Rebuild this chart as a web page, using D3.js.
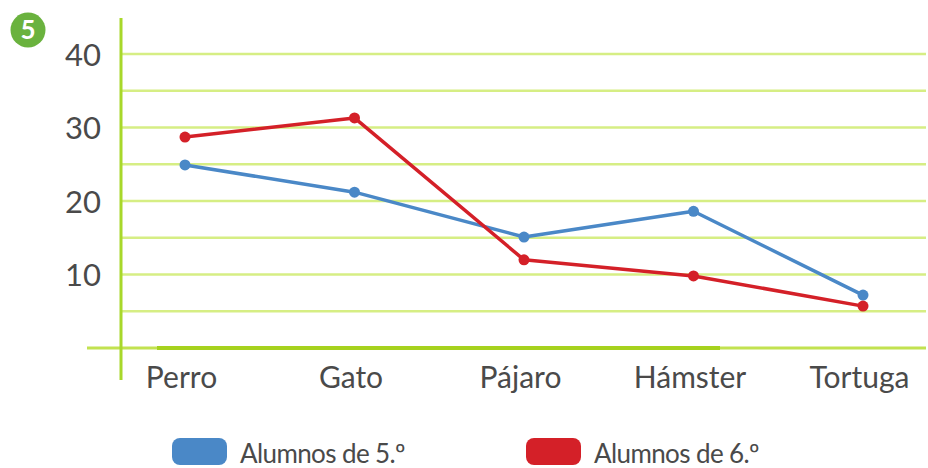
<!DOCTYPE html>
<html>
<head>
<meta charset="utf-8">
<script src="https://cdn.jsdelivr.net/npm/d3@7"></script>
<style>
  html, body { margin: 0; padding: 0; background: #fff; }
  svg { display: block; }
  text { font-family: Lato, "Open Sans", sans-serif; fill: #4a4a4a; }
</style>
</head>
<body>
<svg id="chart" width="928" height="468"></svg>
<script>
const categories = ["Perro", "Gato", "Pájaro", "Hámster", "Tortuga"];
const quinto = [24.9, 21.2, 15.1, 18.6, 7.2];
const sexto = [28.7, 31.3, 12.0, 9.8, 5.7];
const yTicks = [10, 20, 30, 40];
const gridValues = [5, 10, 15, 20, 25, 30, 35, 40];
const seriesNames = ["Alumnos de 5.º", "Alumnos de 6.º"];
const seriesColors = ["#4a88c7", "#d42028"];
const badgeLabel = "5";

const svg = d3.select("#chart");

const x = d3.scalePoint().domain(categories).range([185, 863]);
const y = d3.scaleLinear().domain([0, 40]).range([348, 54]);

// gridlines
svg.append("g").selectAll("line").data(gridValues).join("line")
  .attr("x1", 121).attr("x2", 926)
  .attr("y1", d => y(d)).attr("y2", d => y(d))
  .attr("stroke", "#d6ee84").attr("stroke-width", 2.5);

// x axis baseline
svg.append("line")
  .attr("x1", 87).attr("x2", 926).attr("y1", y(0)).attr("y2", y(0))
  .attr("stroke", "#c2e250").attr("stroke-width", 3);
svg.append("line")
  .attr("x1", 157).attr("x2", 720).attr("y1", y(0)).attr("y2", y(0))
  .attr("stroke", "#a6d21e").attr("stroke-width", 4);

// y axis line
svg.append("line")
  .attr("x1", 121).attr("x2", 121).attr("y1", 18).attr("y2", 380)
  .attr("stroke", "#a8d82a").attr("stroke-width", 3);

// y tick labels
const yAxis = d3.axisLeft(y).tickValues(yTicks).tickSize(0).tickPadding(0);
const gy = svg.append("g").attr("transform", "translate(101,0)").call(yAxis);
gy.select(".domain").remove();
gy.selectAll("text")
  .attr("font-family", "Lato, 'Open Sans', sans-serif")
  .attr("font-size", 31).attr("fill", "#4a4a4a")
  .attr("dy", "0.36em");

// x labels
const xAxis = d3.axisBottom(x).tickSize(0).tickPadding(0);
const gx = svg.append("g").attr("transform", "translate(-4,366)").call(xAxis);
gx.select(".domain").remove();
gx.selectAll("text")
  .attr("font-family", "Lato, 'Open Sans', sans-serif")
  .attr("font-size", 30).attr("fill", "#4a4a4a")
  .attr("dy", "0.72em");

// lines
const series = [quinto, sexto];
const line = d3.line().x((d, i) => x(categories[i])).y(d => y(d));
series.forEach((s, k) => {
  svg.append("path").datum(s)
    .attr("d", line).attr("fill", "none")
    .attr("stroke", seriesColors[k]).attr("stroke-width", 3.5)
    .attr("stroke-linejoin", "round");
  svg.append("g").selectAll("circle").data(s).join("circle")
    .attr("cx", (d, i) => x(categories[i])).attr("cy", d => y(d))
    .attr("r", 5.5).attr("fill", seriesColors[k]);
});

// legend
const legendX = [172, 526];
seriesNames.forEach((n, k) => {
  const g = svg.append("g").attr("transform", `translate(${legendX[k]},438)`);
  g.append("rect").attr("width", 55).attr("height", 27).attr("rx", 8)
    .attr("fill", seriesColors[k]);
  g.append("text").attr("x", 68).attr("y", 25)
    .attr("font-size", 26).attr("letter-spacing", -0.6).text(n);
});

// badge
svg.append("circle").attr("cx", 28).attr("cy", 30).attr("r", 17.5).attr("fill", "#6ab23e");
svg.append("text").attr("x", 28).attr("y", 39).attr("text-anchor", "middle")
  .attr("font-size", 26).attr("font-weight", "bold").style("fill", "#fff").text(badgeLabel);
</script>
</body>
</html>
